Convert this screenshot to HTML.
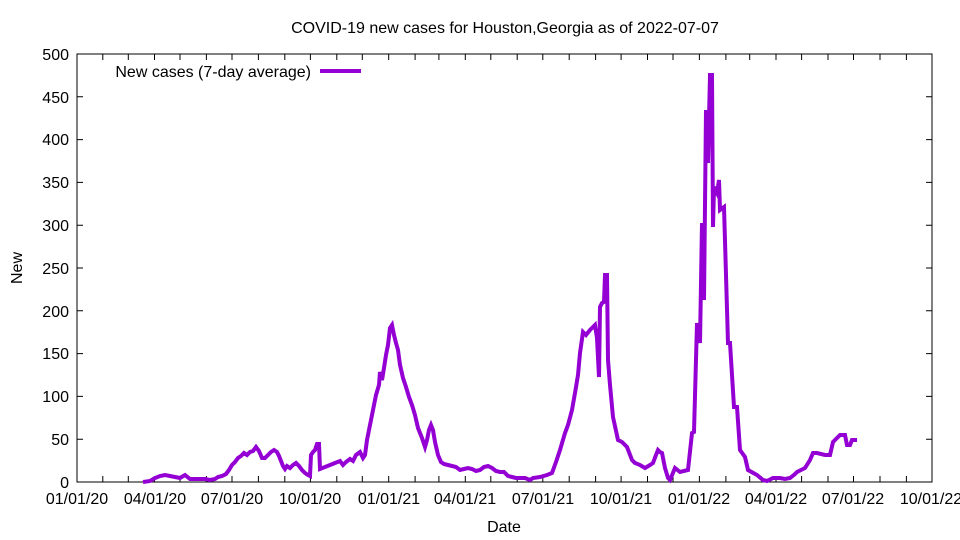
<!DOCTYPE html>
<html><head><meta charset="utf-8"><style>body{margin:0;background:#fff}svg{display:block}text{font-family:"Liberation Sans",sans-serif;font-size:16px;fill:#000}</style></head>
<body>
<svg width="960" height="540" viewBox="0 0 960 540">
<rect x="77" y="54" width="855" height="428" fill="none" stroke="#000" stroke-width="1"/>
<g stroke="#000" stroke-width="1">
<path d="M77 482h6M77 439.2h6M77 396.4h6M77 353.6h6M77 310.8h6M77 268h6M77 225.2h6M77 182.4h6M77 139.6h6M77 96.8h6M932 439.2h-6M932 396.4h-6M932 353.6h-6M932 310.8h-6M932 268h-6M932 225.2h-6M932 182.4h-6M932 139.6h-6M932 96.8h-6"/>
<path d="M102.8 482v-6M128.3 482v-6M154.5 482v-6M180 482v-6M206.4 482v-6M232 482v-6M258.4 482v-6M284.8 482v-6M310.4 482v-6M336.8 482v-6M362.3 482v-6M388.7 482v-6M415.1 482v-6M438.9 482v-6M465.3 482v-6M490.8 482v-6M517.2 482v-6M542.8 482v-6M569.2 482v-6M595.6 482v-6M621.1 482v-6M647.5 482v-6M673 482v-6M699.4 482v-6M725.9 482v-6M749.7 482v-6M776 482v-6M801.6 482v-6M828 482v-6M853.5 482v-6M880 482v-6M906.4 482v-6"/>
<path d="M102.8 54v6M128.3 54v6M154.5 54v6M180 54v6M206.4 54v6M232 54v6M258.4 54v6M284.8 54v6M310.4 54v6M336.8 54v6M362.3 54v6M388.7 54v6M415.1 54v6M438.9 54v6M465.3 54v6M490.8 54v6M517.2 54v6M542.8 54v6M569.2 54v6M595.6 54v6M621.1 54v6M647.5 54v6M673 54v6M699.4 54v6M725.9 54v6M749.7 54v6M776 54v6M801.6 54v6M828 54v6M853.5 54v6M880 54v6M906.4 54v6"/>
</g>
<g text-anchor="end">
<text x="69" y="488">0</text><text x="69" y="445">50</text><text x="69" y="402">100</text><text x="69" y="359">150</text><text x="69" y="317">200</text><text x="69" y="274">250</text><text x="69" y="231">300</text><text x="69" y="188">350</text><text x="69" y="145">400</text><text x="69" y="103">450</text><text x="69" y="60">500</text>
</g>
<g text-anchor="middle">
<text x="77" y="504">01/01/20</text><text x="155" y="504">04/01/20</text><text x="232" y="504">07/01/20</text><text x="310" y="504">10/01/20</text><text x="389" y="504">01/01/21</text><text x="465" y="504">04/01/21</text><text x="543" y="504">07/01/21</text><text x="621" y="504">10/01/21</text><text x="699" y="504">01/01/22</text><text x="776" y="504">04/01/22</text><text x="853" y="504">07/01/22</text><text x="931" y="504">10/01/22</text>
<text x="504" y="532">Date</text>
<text x="505" y="33">COVID-19 new cases for Houston,Georgia as of 2022-07-07</text>
<text transform="translate(22,268) rotate(-90)">New</text>
</g>
<text x="311" y="77" text-anchor="end">New cases (7-day average)</text>
<path d="M320 71h41" stroke="#9400d3" stroke-width="4"/>
<polyline fill="none" stroke="#9400d3" stroke-width="4" stroke-linejoin="miter" points="143,482 150,481 155,478 160,476 165,475 170,476 175,477 180,478 185,475 190,479 195,479 200,479 205,479 210,480 215,479 218,477 222,476 226,474 229,470 232,465 235,462 238,458 241,456 244,453 247,455 250,452 253,451 256,447 259,451 262,458 265,458 268,455 271,452 274,450 277,452 279,456 281,461 283,466 285,469 287,466 290,468 293,465 296,463 299,466 302,470 305,473 308,475 310,476 311,455 313,452 315,450 317,444 319,444 320,469 325,467 330,465 335,463 340,461 343,465 346,462 350,459 353,461 356,455 360,452 363,458 365,455 367,440 370,425 373,410 376,395 379,385 380,372 382,380 384,368 386,355 388,345 390,328 392,325 394,335 396,343 398,350 400,365 403,378 406,387 409,397 412,405 415,415 418,428 422,438 425,447 427,440 429,430 431,425 433,430 435,442 438,455 441,462 444,464 448,465 452,466 456,467 460,470 464,469 468,468 472,469 476,471 480,470 484,467 488,466 492,468 496,471 500,472 504,472 508,476 512,477 516,478 520,478 525,478 530,480 533,478 540,477 547,475 552,473 556,462 560,450 565,433 568,425 572,410 575,393 578,375 580,353 583,332 586,335 590,330 592,328 595,325 597,338 599,377 600,307 602,303 604,302 605,275 607,275 608,360 610,385 613,417 618,440 622,442 627,447 632,460 635,463 640,465 645,468 650,465 653,463 656,455 658,450 660,452 662,453 665,468 668,478 670,480 675,468 680,472 688,470 692,433 694,432 697,323 700,343 702,223 704,300 706,110 708,163 710,75 712,75 713,227 714,187 717,193 719,180 720,210 724,207 728,343 730,343 734,407 737,407 740,450 745,457 748,470 757,475 763,480 767,481 773,478 780,478 785,479 790,478 795,474 797,472 805,468 810,460 813,453 817,453 825,455 830,455 833,442 840,435 845,435 847,445 850,445 852,440 857,440"/>
</svg>
</body></html>
